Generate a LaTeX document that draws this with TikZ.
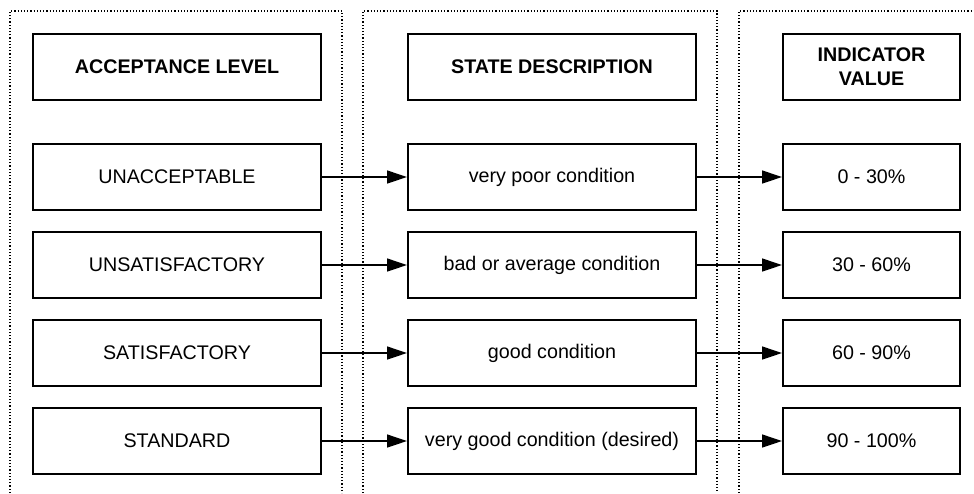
\documentclass[tikz,border=0pt]{standalone}
\usepackage{fontspec}
\setmainfont{Liberation Sans}
\usetikzlibrary{arrows.meta}
\begin{document}
\begin{tikzpicture}[x=1pt,y=-1pt,
  box/.style={draw=black,line width=2pt,minimum width=288pt,minimum height=66pt,inner sep=0pt,anchor=north west,font=\fontsize{19.7}{24}\selectfont,align=center},
  hbox/.style={box,font=\fontsize{19.7}{24}\selectfont\bfseries},
  narrow/.style={minimum width=177pt},
  col/.style={draw=black,line width=1.2pt,dotted},
  conn/.style={draw=black,line width=1.3pt,-{Triangle[length=20pt,width=13pt]}}]
\useasboundingbox (0,0) rectangle (974,493);
% dotted columns
\draw[col] (10,493) -- (10,11) -- (342,11) -- (342,493);
\draw[col] (363,493) -- (363,11) -- (717,11) -- (717,493);
\draw[col] (739,493) -- (739,11) -- (980,11);
% headers
\node[hbox] (h1) at (32,33) {ACCEPTANCE LEVEL};
\node[hbox] (h2) at (407,33) {STATE DESCRIPTION};
\node[hbox,narrow] (h3) at (782,33) {INDICATOR\\VALUE};
% rows
\node[box] (a1) at (32,143) {UNACCEPTABLE};
\node[box] (b1) at (407,143) {very poor condition};
\node[box,narrow] (c1) at (782,143) {0 - 30\%};
\node[box] (a2) at (32,231) {UNSATISFACTORY};
\node[box] (b2) at (407,231) {bad or average condition};
\node[box,narrow] (c2) at (782,231) {30 - 60\%};
\node[box] (a3) at (32,319) {SATISFACTORY};
\node[box] (b3) at (407,319) {good condition};
\node[box,narrow] (c3) at (782,319) {60 - 90\%};
\node[box] (a4) at (32,407) {STANDARD};
\node[box] (b4) at (407,407) {very good condition (desired)};
\node[box,narrow] (c4) at (782,407) {90 - 100\%};
\foreach \i in {1,2,3,4}{
  \draw[conn] (a\i.east) -- (b\i.west);
  \draw[conn] (b\i.east) -- (c\i.west);
}
\end{tikzpicture}
\end{document}
